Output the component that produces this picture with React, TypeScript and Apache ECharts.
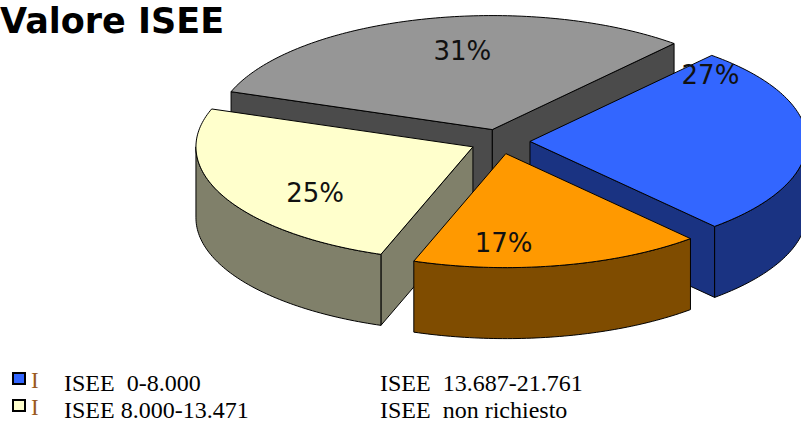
import React, { useEffect, useRef } from "react";
import * as echarts from "echarts";

// ---- data ----
const CATEGORIES = ["ISEE\u00a0 0-8.000", "ISEE\u00a0 13.687-21.761", "ISEE 8.000-13.471", "ISEE\u00a0 non richiesto"];
const VALUES = [27, 17, 25, 31];
const TOP_COLORS = ["#3366FF", "#FF9900", "#FFFFCC", "#969696"];
const SIDE_COLORS = ["#1A3382", "#7F4C00", "#80806A", "#4B4B4B"];
const TITLE = "Valore ISEE";

// ---- geometry / style (not data) ----
const CX = 500;
const CY = 141.5;
const RX = 277;
const RY = 114;
const DEPTH = 71;
const EXPLODE = 30;
const START_ANGLE = 41; // degrees clockwise from 12 o'clock
const LABEL_FRAC = 0.72;
const LABEL_NUDGE: [number, number][] = [
  [-19, -66],
  [-41, 9],
  [22, 11],
  [21, 1],
];

const rad = (d: number) => (d * Math.PI) / 180;

function renderItem(params: any, api: any) {
  const i = params.dataIndex;
  const total = VALUES.reduce((a, b) => a + b, 0);
  let acc = 0;
  for (let j = 0; j < i; j++) acc += VALUES[j];
  const v = api.value(0);
  const a0 = START_ANGLE + (acc / total) * 360;
  const a1 = a0 + (v / total) * 360;
  const mid = (a0 + a1) / 2;
  const k = RY / RX;
  const ox = CX + EXPLODE * Math.sin(rad(mid));
  const oy = CY - EXPLODE * k * Math.cos(rad(mid));
  const pt = (a: number, dz: number) => [ox + RX * Math.sin(rad(a)), oy - RY * Math.cos(rad(a)) + dz];
  const arc = (s: number, t: number, dz: number) => {
    const n = Math.max(2, Math.ceil(Math.abs(t - s)));
    const out: number[][] = [];
    for (let m = 0; m <= n; m++) out.push(pt(s + ((t - s) * m) / n, dz));
    return out;
  };
  const depthRank = -Math.cos(rad(mid));
  const base = Math.round((depthRank + 1) * 100) * 10;
  const stroke = "#000";
  const children: any[] = [];
  const side = SIDE_COLORS[i];
  // radial walls
  if (Math.sin(rad(a0)) < 0) {
    const p = pt(a0, 0);
    const q = pt(a0, DEPTH);
    children.push({
      type: "polygon",
      z2: base,
      shape: { points: [[ox, oy], p, q, [ox, oy + DEPTH]] },
      style: { fill: side, stroke, lineWidth: 1 },
    });
  }
  if (Math.sin(rad(a1)) > 0) {
    const p = pt(a1, 0);
    const q = pt(a1, DEPTH);
    children.push({
      type: "polygon",
      z2: base,
      shape: { points: [[ox, oy], p, q, [ox, oy + DEPTH]] },
      style: { fill: side, stroke, lineWidth: 1 },
    });
  }
  // outer wall (front-facing part)
  for (const [lo, hi] of [
    [90, 270],
    [450, 630],
    [-270, -90],
  ]) {
    const s = Math.max(a0, lo);
    const t = Math.min(a1, hi);
    if (t > s) {
      const topPts = arc(s, t, 0);
      const botPts = arc(s, t, DEPTH).reverse();
      children.push({
        type: "polygon",
        z2: base + 1,
        shape: { points: topPts.concat(botPts) },
        style: { fill: side, stroke, lineWidth: 1 },
      });
    }
  }
  // top face
  children.push({
    type: "polygon",
    z2: base + 2,
    shape: { points: [[ox, oy]].concat(arc(a0, a1, 0)) },
    style: { fill: TOP_COLORS[i], stroke, lineWidth: 1 },
  });
  // label
  const lx = ox + RX * LABEL_FRAC * Math.sin(rad(mid)) + LABEL_NUDGE[i][0];
  const ly = oy - RY * LABEL_FRAC * Math.cos(rad(mid)) + LABEL_NUDGE[i][1];
  children.push({
    type: "text",
    z2: 5000,
    x: lx,
    y: ly,
    style: {
      text: Math.round(v) + "%",
      font: '26px "DejaVu Sans"',
      fill: "#111",
      align: "center",
      verticalAlign: "middle",
    },
  });
  return { type: "group", children };
}

export default function App() {
  const ref = useRef<HTMLDivElement>(null);
  useEffect(() => {
    if (!ref.current) return;
    const chart = echarts.init(ref.current, undefined, { renderer: "svg" });
    const legendGraphics: any[] = [];
    CATEGORIES.forEach((name, i) => {
      const col = i % 2;
      const row = Math.floor(i / 2);
      const ty = 383 + row * 27;
      if (col === 0) {
        legendGraphics.push({
          type: "rect",
          shape: { x: 13, y: ty - 10, width: 12, height: 11 },
          style: { fill: TOP_COLORS[i], stroke: "#000", lineWidth: 2 },
        });
        legendGraphics.push({
          type: "text",
          x: 31,
          y: ty - 3,
          style: {
            text: "I",
            font: '23px "Liberation Serif"',
            fill: "#9A5A1E",
            verticalAlign: "middle",
          },
        });
      }
      legendGraphics.push({
        type: "text",
        x: col === 0 ? 64 : 380,
        y: ty,
        style: {
          text: name,
          font: '24px "Liberation Serif"',
          fill: "#000",
          verticalAlign: "middle",
        },
      });
    });
    chart.setOption({
      animation: false,
      backgroundColor: "#fff",
      graphic: [
        {
          type: "text",
          x: 0,
          y: 21,
          style: {
            text: TITLE,
            font: 'bold 35px "DejaVu Sans"',
            fill: "#000",
            verticalAlign: "middle",
          },
        },
        ...legendGraphics,
      ],
      series: [
        {
          type: "custom",
          coordinateSystem: "none",
          silent: true,
          renderItem,
          data: VALUES.map((v, i) => ({ value: v, name: CATEGORIES[i] })),
        },
      ],
    });
    return () => chart.dispose();
  }, []);
  return <div ref={ref} style={{ position: "fixed", left: 0, top: 0, width: 801, height: 426 }} />;
}
